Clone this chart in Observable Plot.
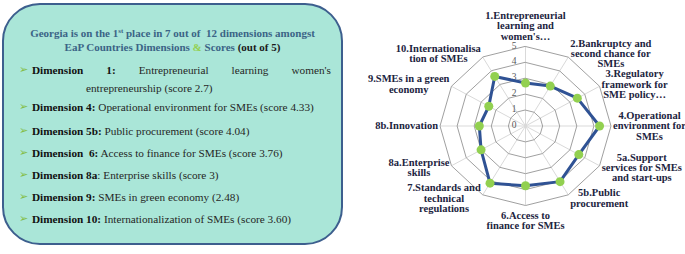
<!DOCTYPE html>
<html><head><meta charset="utf-8">
<script src="https://cdn.jsdelivr.net/npm/d3@7"></script>
<script src="https://cdn.jsdelivr.net/npm/@observablehq/plot@0.6"></script>
<style>
html,body{margin:0;padding:0;background:#fff;}
#wrap{position:relative;width:685px;height:254px;overflow:hidden;font-family:"Liberation Serif","Times New Roman",serif;}
#panel{position:absolute;left:2px;top:3px;width:337px;height:238px;border:2px solid #3d5f8e;border-radius:38px;background:#aae6d8;}
.ln{position:absolute;white-space:nowrap;font-size:11.25px;color:#262626;line-height:12px;}
.title{left:0;width:100%;text-align:center;font-weight:bold;color:#3b6486;font-size:11px;}
.title sup{font-size:7px;vertical-align:4px;line-height:0;}
.amp{color:#92d050;}
.dark{color:#1a1a1a;}
.arrow{position:absolute;left:15px;font-family:"DejaVu Sans";font-size:11px;color:#84bd45;line-height:12px;}
b{color:#111;}
#chart{position:absolute;left:350px;top:0;}
</style></head>
<body><div id="wrap">
<div id="panel"></div>
<div id="chart"></div>
</div>
<script>
// ---- data ----
const categories = [
  "1.Entrepreneurial\nlearning and\nwomen's…",
  "2.Bankruptcy and\nsecond chance for\nSMEs",
  "3.Regulatory\nframework for\nSME policy…",
  "4.Operational\nenvironment for\nSMEs",
  "5a.Support\nservices for SMEs\nand start-ups",
  "5b.Public\nprocurement",
  "6.Access to\nfinance for SMEs",
  "7.Standards and\ntechnical\nregulations",
  "8a.Enterprise\nskills",
  "8b.Innovation",
  "9.SMEs in a green\neconomy",
  "10.Internationalisa\ntion of SMEs"
];
const scores = [2.7, 2.9, 3.5, 4.33, 3.6, 4.04, 3.76, 4.15, 3.0, 2.7, 2.48, 3.6];
const levels = [0, 1, 2, 3, 4, 5];
const panelTitle = ["Georgia is on the 1<sup>st</sup> place in 7 out of&nbsp; 12 dimensions amongst",
  "EaP Countries Dimensions <span class='amp'>&amp;</span> Scores <span class='dark'>(out of 5)</span>"];
const dimNames = ["Dimension 1:", "Dimension 4:", "Dimension 5b:", "Dimension&nbsp; 6:", "Dimension 8a", "Dimension 9:", "Dimension 10:"];
const dimTexts = ["Entrepreneurial learning women's", "Operational environment for SMEs (score 4.33)", "Public procurement (score 4.04)",
  "Access to finance for SMEs (score 3.76)", ": Enterprise skills (score 3)", "SMEs in green economy (2.48)", "Internationalization of SMEs (score 3.60)"];
const dim1Cont = "entrepreneurship (score 2.7)";

const FONT = '"Liberation Serif","Times New Roman",serif';

// ---- left panel ----
const panel = document.getElementById("panel");
const lineTops = [59, 96, 120, 142, 164, 186, 208];
let html = `<div class="ln title" style="top:22px">${panelTitle[0]}</div><div class="ln title" style="top:36px">${panelTitle[1]}</div>`;
dimNames.forEach((d, i) => {
  html += `<div class="arrow" style="top:${lineTops[i]}px">➢</div>`;
  if (i === 0) {
    html += `<div class="ln" style="top:${lineTops[i]}px;left:28px;width:299px;display:flex;justify-content:space-between"><b>Dimension</b><b>1:</b><span>Entrepreneurial</span><span>learning</span><span>women's</span></div>`;
    html += `<div class="ln" style="top:77px;left:82px">${dim1Cont}</div>`;
  } else {
    html += `<div class="ln" style="top:${lineTops[i]}px;left:28px"><b>${d}</b>${dimTexts[i].startsWith(":") ? "" : " "}${dimTexts[i]}</div>`;
  }
});
panel.innerHTML = html;

// ---- radar ----
const W = 335, H = 254, cx = 175, cy = 125.5, rx = 85.5, ry = 79.5, R = 5;
const kx = rx / R, ky = ry / R;
const ang = i => i * 2 * Math.PI / categories.length;
const pts = scores.map((v, i) => ({i, v, x: v * Math.sin(ang(i)), y: v * Math.cos(ang(i))}));
const spokes = categories.map((c, i) => ({x: R * Math.sin(ang(i)), y: R * Math.cos(ang(i))}));
const rings = levels.filter(l => l > 0).flatMap(l => categories.map((c, i) => ({l, x: l * Math.sin(ang(i)), y: l * Math.cos(ang(i))})));

const fontSize = 10.5, lh = 0.98;
const ctx = document.createElement("canvas").getContext("2d");
ctx.font = `bold ${fontSize}px ${FONT}`;
const labels = categories.map((c, i) => {
  const lines = c.split("\n");
  const w = Math.max(...lines.map(s => ctx.measureText(s).width));
  const h = lines.length * fontSize * lh;
  const s = Math.sin(ang(i)), co = Math.cos(ang(i));
  let x = R * s, y = R * co;
  if (Math.abs(s) < 1e-6) {
    y += Math.sign(co) * (5 + h / 2) / ky;
  } else {
    x += Math.sign(s) * (2 + w / 2) / kx;
    y += co * 4 / ky;
  }
  return {text: c, x, y};
});

const chart = Plot.plot({
  width: W, height: H, margin: 0,
  x: {domain: [-R, R], range: [cx - rx, cx + rx], axis: null},
  y: {domain: [-R, R], range: [cy + ry, cy - ry], axis: null},
  style: {background: "transparent", fontFamily: FONT},
  marks: [
    Plot.link(spokes, {x1: 0, y1: 0, x2: "x", y2: "y", stroke: "#d9d9d9", strokeWidth: 1}),
    Plot.line(rings, {x: "x", y: "y", z: "l", curve: "linear-closed", stroke: "#a0a0a0", strokeWidth: 1}),
    Plot.text(levels, {x: 0, y: d => d, text: d => String(d), textAnchor: "end", dx: -9, dy: -1, fontSize: 9.5, fill: "#595959"}),
    Plot.line(pts, {x: "x", y: "y", curve: "linear-closed", stroke: "#2f5294", strokeWidth: 3}),
    Plot.dot(pts, {x: "x", y: "y", r: 4.5, fill: "#92d050", stroke: "none"}),
    Plot.text(labels, {x: "x", y: "y", text: "text", textAnchor: "middle", lineAnchor: "middle", lineHeight: lh, fontSize, fontWeight: "bold", fill: "#1c2440"})
  ]
});
document.getElementById("chart").appendChild(chart);
</script>
</body></html>
